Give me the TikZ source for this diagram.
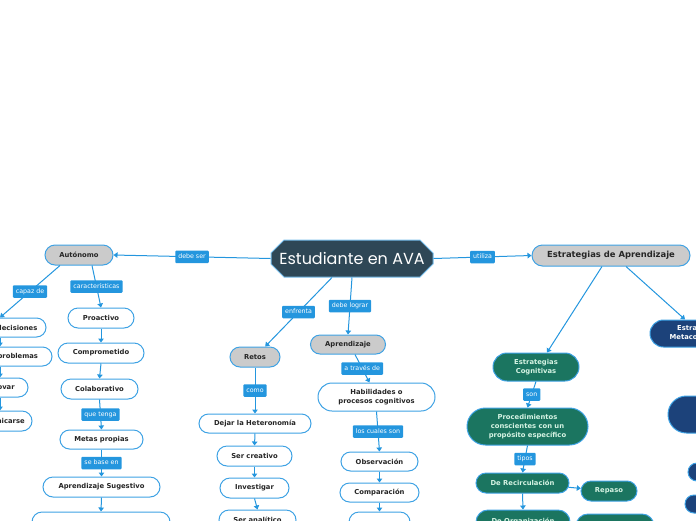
\documentclass[tikz,border=0pt]{standalone}
\usepackage{fontspec}
\setmainfont{DejaVu Sans}
\newfontfamily\titlefont{Poppins}
\usetikzlibrary{arrows.meta,shapes.misc}

\definecolor{linkblue}{RGB}{36,150,222}
\definecolor{rimblue}{RGB}{62,162,228}
\definecolor{rootfill}{RGB}{46,71,86}
\definecolor{grayfill}{RGB}{203,203,203}
\definecolor{greenfill}{RGB}{27,117,96}
\definecolor{greentext}{RGB}{214,244,228}
\definecolor{navyfill}{RGB}{28,66,122}

\begin{document}
\begin{tikzpicture}[x=1pt, y=-1pt,
  box/.style={rounded rectangle, draw=rimblue, line width=1pt, fill=white, align=center,
    inner sep=2pt, font=\fontsize{6.8}{9}\selectfont\bfseries, text=black!85},
  graybox/.style={box, fill=grayfill},
  greenbox/.style={box, fill=greenfill, text=greentext},
  navybox/.style={box, fill=navyfill, text=white},
  root/.style={chamfered rectangle, chamfered rectangle xsep=7pt, chamfered rectangle ysep=6pt,
    fill=rootfill, draw=rimblue!70, line width=1pt, inner xsep=0pt, minimum width=162pt,
    minimum height=37pt, text=white, font=\titlefont\fontsize{16}{18}\selectfont},
  conn/.style={draw=linkblue, line width=1pt, -{Triangle[length=4pt,width=5.5pt]}},
  lbl/.style={fill=linkblue, text=white, rounded corners=1pt, inner xsep=3pt, inner ysep=3.3pt,
    text height=4.6pt, text depth=1.3pt, font=\fontsize{6.3}{7}\selectfont}]
\useasboundingbox (0,0) rectangle (696,520);
\clip (0,0) rectangle (696,520);

% centre and first level
\node[root] (root) at (352,258.5) {Estudiante en AVA};
\node[graybox, minimum width=72pt, minimum height=20pt] (auto) at (79,255) {Autónomo};
\node[graybox, minimum width=162pt, minimum height=21pt, font=\fontsize{8.4}{10}\selectfont\bfseries]
  (estr) at (611,255.5) {Estrategias de Aprendizaje};
\node[graybox, minimum width=54pt, minimum height=20pt] (retos) at (255,357) {Retos};
\node[graybox, minimum width=79pt, minimum height=19pt] (aprend) at (348,344.5) {Aprendizaje};

% Autónomo
\node[box, minimum width=70pt, minimum height=20pt] (proact) at (101,318) {Proactivo};
\node[box, minimum width=90pt, minimum height=20pt] (compr) at (101,353) {Comprometido};
\node[box, minimum width=81pt, minimum height=20pt] (colab) at (99.5,389) {Colaborativo};
\node[box, minimum width=87pt, minimum height=19pt] (metas) at (101.5,439.5) {Metas propias};
\node[box, minimum width=121pt, minimum height=20pt] (suges) at (101.5,487) {Aprendizaje Sugestivo};
\node[box, minimum width=142pt, minimum height=20pt] (sugnext) at (101,522) {};
\node[box, minimum width=96pt, minimum height=19pt] (decis) at (0,327.5) {Toma de decisiones};
\node[box, minimum width=108pt, minimum height=19pt] (probl) at (0,356.5) {Resolver problemas};
\node[box, minimum width=60pt, minimum height=19pt] (innov) at (0,387.5) {Innovar};
\node[box, minimum width=68pt, minimum height=20pt] (comun) at (0,421) {Comunicarse};

% Retos
\node[box, minimum width=116pt, minimum height=19pt] (dejar) at (255,423.5) {Dejar la Heteronomía};
\node[box, minimum width=79pt, minimum height=20pt] (creat) at (254.5,456) {Ser creativo};
\node[box, minimum width=73pt, minimum height=20pt] (invest) at (254.5,488) {Investigar};
\node[box, minimum width=81pt, minimum height=20pt] (analit) at (257.5,520) {Ser analítico};

% Aprendizaje
\node[box, minimum width=121pt, minimum height=28pt] (habil) at (376.5,397) {Habilidades o\\procesos cognitivos};
\node[box, minimum width=81pt, minimum height=19pt] (obs) at (379.5,461.5) {Observación};
\node[box, minimum width=83pt, minimum height=19pt] (comp) at (379.5,492.5) {Comparación};
\node[box, minimum width=65pt, minimum height=20pt] (relac) at (379.5,522) {};

% Estrategias
\node[greenbox, minimum width=90pt, minimum height=28pt] (cogn) at (536,367) {Estrategias\\Cognitivas};
\node[greenbox, minimum width=125pt, minimum height=37pt] (proc) at (527.5,426.5)
  {Procedimientos\\conscientes con un\\propósito específico};
\node[greenbox, minimum width=97pt, minimum height=20pt] (recirc) at (522.5,483) {De Recirculación};
\node[greenbox, minimum width=60pt, minimum height=20pt] (repaso) at (609,491) {Repaso};
\node[greenbox, minimum width=98pt, minimum height=24pt] (organiz) at (523,522) {De Organización};
\node[greenbox, minimum width=82pt, minimum height=24pt] (orgnext) at (615,526) {};
\node[navybox, minimum width=102pt, minimum height=27pt] (meta) at (699,333.5) {Estrategias\\Metacognitivas};
\node[navybox, minimum width=108pt, minimum height=37pt] (conoc) at (720,414.5) {};
\node[navybox, minimum width=88pt, minimum height=18pt] (metaa) at (730,472) {};
\node[navybox, minimum width=94pt, minimum height=18pt] (metab) at (730,504) {};

% connectors
\draw[conn] (root.west) -- node[lbl]{debe ser} (auto.east);
\draw[conn] (root.east) -- node[lbl]{utiliza} (estr.west);
\draw[conn] ([xshift=-20pt]root.south) -- node[lbl]{enfrenta} (retos);
\draw[conn] (root.south) -- node[lbl]{debe lograr} (aprend.north);
\draw[conn] ([xshift=7pt]aprend.south) -- node[lbl]{a través de} ([xshift=-7pt]habil.north);
\draw[conn] (habil.south) -- node[lbl]{los cuales son} (obs.north);
\draw[conn] (retos.south) -- node[lbl]{como} (dejar.north);
\draw[conn] ([xshift=13pt]auto.south) -- node[lbl]{características} (proact.north);
\draw[conn] ([xshift=-19pt]auto.south) -- node[lbl]{capaz de} (decis.north);
\draw[conn] (colab.south) -- node[lbl]{que tenga} (metas.north);
\draw[conn] (metas.south) -- node[lbl]{se base en} (suges.north);
\draw[conn] ([xshift=-9pt]estr.south) -- ([xshift=11pt]cogn.north);
\draw[conn] ([xshift=15pt]estr.south) -- ([xshift=-14pt]meta.north);
\draw[conn] (cogn.south) -- node[lbl]{son} (proc.north);
\draw[conn] (proc.south) -- node[lbl]{tipos} (recirc.north);
\draw[conn] (recirc) -- (repaso);
\foreach \a/\b in {proact/compr, compr/colab, suges/sugnext, decis/probl, probl/innov,
  innov/comun, dejar/creat, creat/invest, invest/analit, obs/comp, comp/relac, recirc/organiz}
  \draw[conn] (\a.south) -- (\b.north);
\end{tikzpicture}
\end{document}
